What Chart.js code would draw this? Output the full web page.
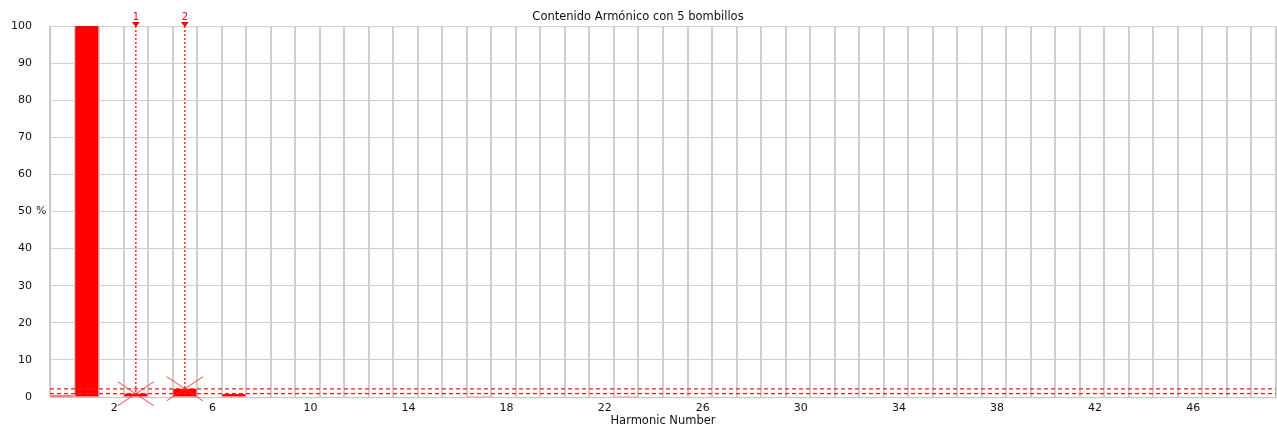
<!DOCTYPE html>
<html>
<head>
<meta charset="utf-8">
<title>Contenido Armónico</title>
<script src="https://cdn.jsdelivr.net/npm/chart.js@4/dist/chart.umd.min.js"></script>
<style>
  html, body { margin: 0; padding: 0; background: #fff; }
  #contenedor { width: 1277px; height: 428px; }
</style>
</head>
<body>
<div id="contenedor"><canvas id="grafica"></canvas></div>
<script>
// armónicos 0..49
const armonicos = [
  0, 1, 2, 3, 4, 5, 6, 7, 8, 9,
  10, 11, 12, 13, 14, 15, 16, 17, 18, 19,
  20, 21, 22, 23, 24, 25, 26, 27, 28, 29,
  30, 31, 32, 33, 34, 35, 36, 37, 38, 39,
  40, 41, 42, 43, 44, 45, 46, 47, 48, 49
];

// porcentaje respecto a la fundamental
const porcentajes = [
  0.4, 100, 0, 0.9, 0, 2.2, 0, 0.8, 0, 0,
  0, 0, 0, 0, 0, 0, 0, 0.2, 0, 0,
  0, 0, 0, 0.2, 0, 0, 0, 0, 0, 0,
  0, 0, 0, 0, 0, 0, 0, 0, 0, 0,
  0, 0, 0, 0, 0, 0, 0, 0, 0, 0
];

const etiquetasEje = [2, 6, 10, 14, 18, 22, 26, 30, 34, 38, 42, 46];

// cursores colocados sobre el 3er y 5to armónico
const cursorNombres = ["1", "2"];
const cursorArmonicos = [3, 5];

const fuente = "'DejaVu Sans', sans-serif";

function linea(ctx, x1, y1, x2, y2) {
  ctx.beginPath();
  ctx.moveTo(x1, y1);
  ctx.lineTo(x2, y2);
  ctx.stroke();
}

const cursores = {
  id: "cursores",
  afterDatasetsDraw(chart) {
    const { ctx, chartArea, scales: { x, y } } = chart;
    ctx.save();

    // líneas horizontales de nivel de cada cursor
    ctx.strokeStyle = "#ff1a1a";
    ctx.lineWidth = 1.4;
    ctx.setLineDash([4, 3]);
    cursorArmonicos.forEach(h => {
      const py = y.getPixelForValue(porcentajes[h]);
      linea(ctx, chartArea.left, py, chartArea.right, py);
    });

    cursorArmonicos.forEach((h, i) => {
      const px = x.getPixelForValue(h);
      const py = y.getPixelForValue(porcentajes[h]);

      ctx.strokeStyle = "#ff1a1a";
      ctx.lineWidth = 1.4;
      ctx.setLineDash([2, 2]);
      linea(ctx, px, chartArea.top, px, py);

      ctx.setLineDash([]);
      ctx.fillStyle = "#ff0000";
      ctx.beginPath();
      ctx.moveTo(px - 4, chartArea.top - 4);
      ctx.lineTo(px + 4, chartArea.top - 4);
      ctx.lineTo(px, chartArea.top + 1);
      ctx.closePath();
      ctx.fill();

      ctx.font = "10px " + fuente;
      ctx.textAlign = "center";
      ctx.textBaseline = "middle";
      ctx.fillText(cursorNombres[i], px, chartArea.top - 9);

      ctx.strokeStyle = "rgba(255,40,40,0.65)";
      ctx.lineWidth = 1.2;
      linea(ctx, px - 18, py - 12, px + 18, py + 12);
      linea(ctx, px - 18, py + 12, px + 18, py - 12);
    });

    // signo de porcentaje junto al 50
    ctx.fillStyle = "#222";
    ctx.font = "11px " + fuente;
    ctx.textAlign = "left";
    ctx.textBaseline = "middle";
    ctx.fillText("%", 36, y.getPixelForValue(50));

    ctx.restore();
  }
};

new Chart(document.getElementById("grafica"), {
  type: "bar",
  data: {
    labels: armonicos,
    datasets: [{
      data: porcentajes,
      backgroundColor: "#ff0000",
      borderWidth: 0,
      categoryPercentage: 1,
      barPercentage: 0.94
    }]
  },
  options: {
    responsive: true,
    maintainAspectRatio: false,
    animation: false,
    layout: { padding: { right: 1 } },
    plugins: {
      legend: { display: false },
      tooltip: { enabled: false },
      title: {
        display: true,
        text: "Contenido Armónico con 5 bombillos",
        color: "#111",
        font: { family: fuente, size: 11.5, weight: "normal", lineHeight: "14px" },
        padding: { top: 10, bottom: 2 }
      }
    },
    scales: {
      x: {
        offset: true,
        grid: {
          offset: true,
          color: "#cfcfcf",
          lineWidth: 2,
          drawTicks: false
        },
        border: { color: "#c4c4c4" },
        ticks: {
          autoSkip: false,
          maxRotation: 0,
          padding: 5,
          labelOffset: 3,
          color: "#111",
          font: { family: fuente, size: 11 },
          callback: (v, i) => etiquetasEje.includes(armonicos[i]) ? String(armonicos[i]) : ""
        },
        title: {
          display: true,
          text: "Harmonic Number",
          color: "#111",
          font: { family: fuente, size: 11.5 },
          padding: { top: 0, bottom: 0 }
        },
        afterFit: s => { s.height = 31; }
      },
      y: {
        min: 0,
        max: 100,
        grid: { color: "#d0d0d0", lineWidth: 1, drawTicks: false },
        border: { color: "#c4c4c4" },
        ticks: {
          stepSize: 10,
          padding: 18,
          color: "#111",
          font: { family: fuente, size: 11 }
        },
        afterFit: s => { s.width = 50; }
      }
    }
  },
  plugins: [cursores]
});
</script>
</body>
</html>
